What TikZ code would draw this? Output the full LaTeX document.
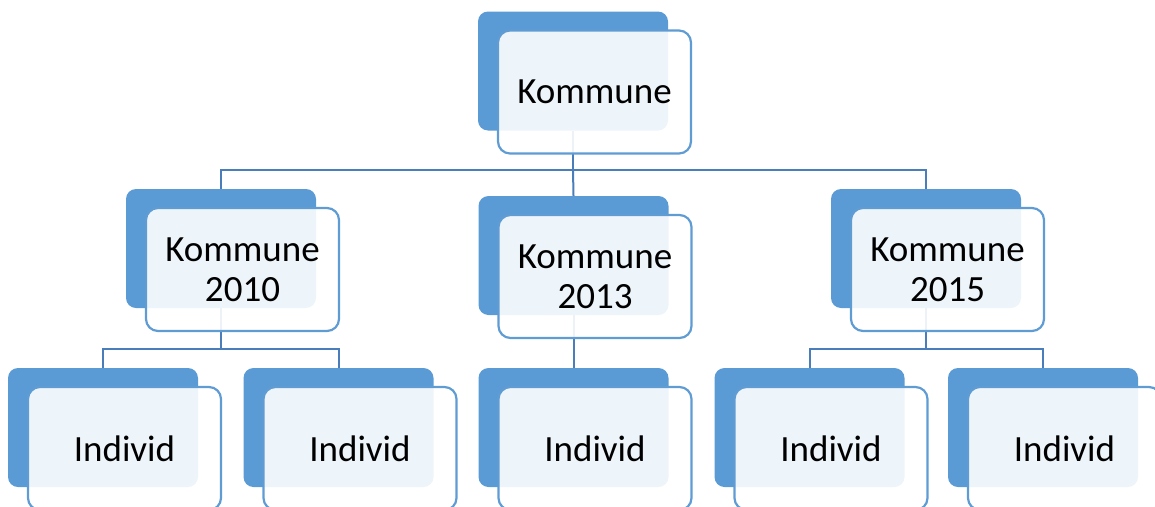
\documentclass[tikz,border=0pt]{standalone}
\usepackage{fontspec}
\setmainfont{Carlito}
\usetikzlibrary{calc}
\definecolor{backblue}{RGB}{91,155,213}
\definecolor{frontborder}{RGB}{96,156,212}
\definecolor{connblue}{RGB}{74,126,187}
\tikzset{
  backbox/.style={fill=backblue, draw=none, rounded corners=10pt, minimum width=190pt, minimum height=119pt, inner sep=0pt},
  frontbox/.style={fill=white, fill opacity=0.9, text opacity=1, draw=frontborder, line width=2.2pt, rounded corners=12pt, minimum width=193pt, minimum height=123pt, inner sep=0pt, align=center, font=\fontsize{37}{40}\selectfont},
  conn/.style={draw=connblue, line width=2pt}
}
\begin{document}
\begin{tikzpicture}[x=1pt,y=-1pt]
\useasboundingbox (0,0) rectangle (1155,506);
\clip (0,0) rectangle (1155,506);
% back boxes
\node[backbox] (bT) at (573,71) {};
\node[backbox] (bL) at (221,248.5) {};
\node[backbox] (bM) at (573.5,255.5) {};
\node[backbox] (bR) at (926,248.5) {};
\node[backbox] (b1) at (103,427.5) {};
\node[backbox] (b2) at (338.5,427.5) {};
\node[backbox] (b3) at (573.5,427.5) {};
\node[backbox] (b4) at (809.5,427.5) {};
\node[backbox] (b5) at (1043,427.5) {};
% connectors
\coordinate (j1) at (573,170);
\coordinate (jL) at (221,349);
\coordinate (jR) at (926,349);
\draw[conn] (bT.south) -- (j1);
\draw[conn] (bL.north) |- (j1) -| (bR.north);
\draw[conn] (j1) -- (bM.north);
\draw[conn] (bL.south) -- (jL);
\draw[conn] (b1.north) |- (jL) -| (b2.north);
\draw[conn] (bM.south) -- (b3.north);
\draw[conn] (bR.south) -- (jR);
\draw[conn] (b4.north) |- (jR) -| (b5.north);
% front boxes
\node[frontbox] (fT) at ($(bT)+(21.5,21)$) {Kommune};
\node[frontbox] (fL) at ($(bL)+(21.5,21)$) {Kommune\\2010};
\node[frontbox] (fM) at ($(bM)+(21.5,21)$) {Kommune\\2013};
\node[frontbox] (fR) at ($(bR)+(21.5,21)$) {Kommune\\2015};
\node[frontbox] (f1) at ($(b1)+(21.5,21)$) {Individ};
\node[frontbox] (f2) at ($(b2)+(21.5,21)$) {Individ};
\node[frontbox] (f3) at ($(b3)+(21.5,21)$) {Individ};
\node[frontbox] (f4) at ($(b4)+(21.5,21)$) {Individ};
\node[frontbox] (f5) at ($(b5)+(21.5,21)$) {Individ};
\end{tikzpicture}
\end{document}
